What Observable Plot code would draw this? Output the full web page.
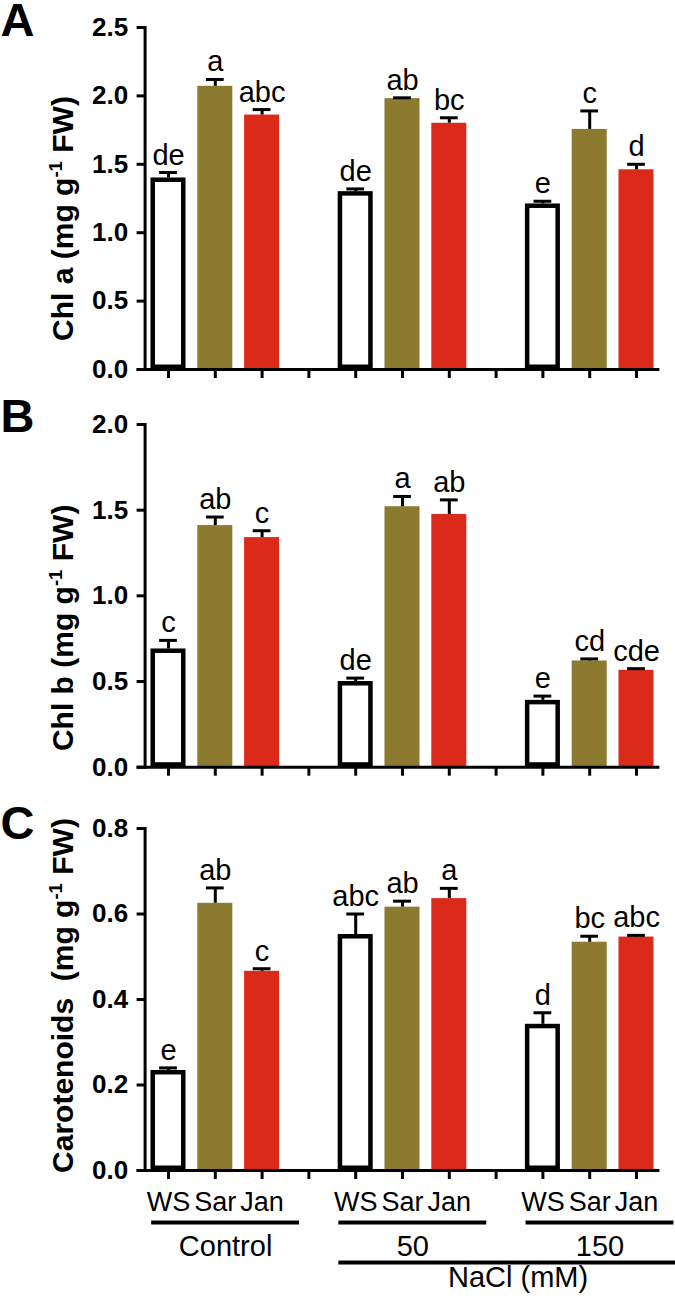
<!DOCTYPE html>
<html><head><meta charset="utf-8">
<script src="https://cdn.jsdelivr.net/npm/d3@7"></script>
<script src="https://cdn.jsdelivr.net/npm/@observablehq/plot@0.6"></script>
<style>
html,body{margin:0;padding:0;background:#fff;}
#chart{width:675px;height:1299px;overflow:hidden;}
#chart svg{display:block;}
</style></head><body><div id="chart"></div>
<script>
// ---- data ----
const cultivars = ["WS", "Sar", "Jan"];
const treatments = ["Control", "50", "150"];
const xGroupTitle = "NaCl (mM)";

const chlA       = [1.40, 2.07, 1.86, 1.30, 1.98, 1.80, 1.21, 1.755, 1.46];
const chlAErr    = [0.04, 0.05, 0.04, 0.02, 0.006, 0.04, 0.02, 0.135, 0.04];
const chlALetter = ["de", "a", "abc", "de", "ab", "bc", "e", "c", "d"];

const chlB       = [0.69, 1.41, 1.34, 0.50, 1.52, 1.475, 0.39, 0.62, 0.565];
const chlBErr    = [0.05, 0.05, 0.04, 0.02, 0.06, 0.085, 0.025, 0.012, 0.01];
const chlBLetter = ["c", "ab", "c", "de", "a", "ab", "e", "cd", "cde"];

const car        = [0.234, 0.625, 0.466, 0.552, 0.616, 0.636, 0.342, 0.534, 0.546];
const carErr     = [0.006, 0.036, 0.006, 0.048, 0.014, 0.024, 0.027, 0.014, 0.004];
const carLetter  = ["e", "ab", "c", "abc", "ab", "a", "d", "bc", "abc"];

const yTicksA = [0, 0.5, 1.0, 1.5, 2.0, 2.5];
const yTicksB = [0, 0.5, 1.0, 1.5, 2.0];
const yTicksC = [0, 0.2, 0.4, 0.6, 0.8];

const colors = {WS: "#ffffff", Sar: "#8b7a30", Jan: "#dc2a1a"};
const FONT = "'Liberation Sans', Arial, Helvetica, sans-serif";

// ---- table ----
function rows(values, errs, letters) {
  return values.map((v, i) => {
    const g = Math.floor(i / 3), c = i % 3;
    return {treatment: treatments[g], cultivar: cultivars[c], slot: g * 4 + c,
            value: v, err: errs[i], top: v + errs[i], letter: letters[i]};
  });
}
const slots = d3.range(treatments.length * 4 - 1);
const slotLabel = i => (i % 4 === 3 ? "" : cultivars[i % 4]);

const BAR = 0.374, CAP = 0.19;

function supify(svg) {
  d3.select(svg).selectAll("text").each(function () {
    const t = this.textContent;
    if (t.includes("^-1")) {
      const [a, b] = t.split("^-1");
      const s = d3.select(this);
      s.text(null);
      s.append("tspan").text(a);
      s.append("tspan").attr("dy", -11).attr("font-size", "62%").text("-1");
      s.append("tspan").attr("dy", 11).text(b);
    }
  });
}

function panel({data, letter, title, ticks, height, marginTop, marginBottom, titleDy, letterDy, xLabels, extra = []}) {
  const ws = data.filter(d => d.cultivar === "WS");
  const colored = data.filter(d => d.cultivar !== "WS");
  const svg = Plot.plot({
    width: 675, height,
    marginLeft: 144.6, marginRight: 15.6, marginTop, marginBottom,
    style: {fontFamily: FONT, color: "black", background: "white", overflow: "visible"},
    x: {domain: [-0.5, slots.length - 0.5]},
    y: {domain: [0, ticks[ticks.length - 1]]},
    marks: [
      Plot.rect(colored, {x1: d => d.slot - BAR, x2: d => d.slot + BAR, y1: () => 0, y2: "value",
                          fill: d => colors[d.cultivar]}),
      Plot.rect(ws, {x1: d => d.slot - BAR, x2: d => d.slot + BAR, y1: () => 0, y2: "value",
                     fill: "white", stroke: "black", strokeWidth: 4.5, inset: 2.25}),
      Plot.ruleX(data, {x: "slot", y1: "value", y2: "top", strokeWidth: 3}),
      Plot.ruleY(data, {y: "top", x1: d => d.slot - CAP, x2: d => d.slot + CAP, strokeWidth: 3}),
      Plot.text(data, {x: "slot", y: "top", text: "letter", dy: -8, lineAnchor: "bottom", fontSize: 29}),
      Plot.axisY({ticks, tickFormat: ".1f", tickSize: 8, tickPadding: 9, strokeWidth: 3,
                  fontSize: 26, fontWeight: "bold", label: null}),
      Plot.axisX({ticks: slots, tickSize: 9, strokeWidth: 3, tickPadding: 12, fontSize: 27, label: null,
                  tickFormat: xLabels ? slotLabel : () => ""}),
      Plot.frame({anchor: "left", strokeWidth: 3}),
      Plot.ruleY([0], {strokeWidth: 3, insetLeft: -8}),
      Plot.text([title], {text: d => d, frameAnchor: "left", rotate: -90, dx: -82, dy: titleDy,
                          fontSize: 30, fontWeight: "bold", textAnchor: "middle", lineAnchor: "middle"}),
      Plot.text([letter], {text: d => d, frameAnchor: "top-left", dx: -144.6, dy: letterDy,
                           fontSize: 47, fontWeight: "bold", textAnchor: "start", lineAnchor: "bottom"}),
      ...extra
    ]
  });
  supify(svg);
  return svg;
}

// group annotations under panel C
const spans = treatments.map((t, g) => {
  const from = g * 4 - 0.36, to = g * 4 + 2.8;
  return {label: t, from, to, mid: (from + to) / 2};
});
const nacl = [{label: xGroupTitle, from: spans[1].from, to: 11.3}];
nacl[0].mid = (nacl[0].from + nacl[0].to) / 2;

const annot = [
  Plot.ruleY(spans, {y: () => 0, x1: "from", x2: "to", dy: 52, strokeWidth: 4}),
  Plot.text(spans, {x: "mid", y: () => 0, text: "label", dy: 85, lineAnchor: "bottom", fontSize: 29}),
  Plot.ruleY(nacl, {y: () => 0, x1: "from", x2: "to", dy: 92, strokeWidth: 4}),
  Plot.text(nacl, {x: "mid", y: () => 0, text: "label", dy: 116, lineAnchor: "bottom", fontSize: 29})
];

const chart = document.getElementById("chart");
chart.append(panel({data: rows(chlA, chlAErr, chlALetter), letter: "A", title: "Chl a (mg g^-1 FW)",
  ticks: yTicksA, height: 400, marginTop: 27, marginBottom: 31, titleDy: 20, letterDy: 8}));
chart.append(panel({data: rows(chlB, chlBErr, chlBLetter), letter: "B", title: "Chl b (mg g^-1 FW)",
  ticks: yTicksB, height: 400, marginTop: 24, marginBottom: 33.3, titleDy: 32, letterDy: 7}));
chart.append(panel({data: rows(car, carErr, carLetter), letter: "C", title: "Carotenoids  (mg g^-1 FW)",
  ticks: yTicksC, height: 499, marginTop: 28, marginBottom: 129, titleDy: -4, letterDy: 10,
  xLabels: true, extra: annot}));
</script></body></html>
